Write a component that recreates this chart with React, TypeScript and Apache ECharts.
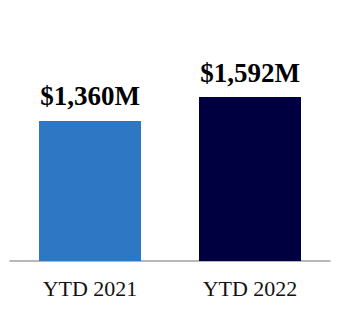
import React, { useEffect, useRef } from "react";
import * as echarts from "echarts";

const categories = ["YTD 2021", "YTD 2022"];
const values = [1360, 1592];
const valueLabels = ["$1,360M", "$1,592M"];
const colors = ["#2E77C4", "#000040"];

export default function App() {
  const ref = useRef<HTMLDivElement>(null);
  useEffect(() => {
    if (!ref.current) return;
    const chart = echarts.init(ref.current, null, { renderer: "svg" });
    chart.setOption({
      animation: false,
      grid: { left: 10, right: 10, top: 55, bottom: 49 },
      xAxis: {
        type: "category",
        data: categories,
        axisLine: { lineStyle: { color: "#A0A0A0", width: 1.5 } },
        axisTick: { show: false },
        axisLabel: {
          color: "#111",
          fontFamily: "Liberation Serif",
          fontSize: 22,
          margin: 16,
        },
      },
      yAxis: {
        type: "value",
        min: 0,
        max: 2000,
        show: false,
        splitLine: { show: false },
      },
      series: [
        {
          type: "bar",
          barWidth: 102,
          data: values.map((v, i) => ({
            value: v,
            itemStyle: { color: colors[i] },
          })),
          label: {
            show: true,
            position: "top",
            distance: 11,
            formatter: (p: any) => valueLabels[p.dataIndex],
            fontFamily: "Liberation Serif",
            fontWeight: "bold",
            fontSize: 27,
            color: "#000",
          },
        },
      ],
    });
    return () => chart.dispose();
  }, []);
  return (
    <div
      ref={ref}
      style={{ position: "fixed", left: 0, top: 0, width: 340, height: 310, background: "#fff" }}
    />
  );
}
